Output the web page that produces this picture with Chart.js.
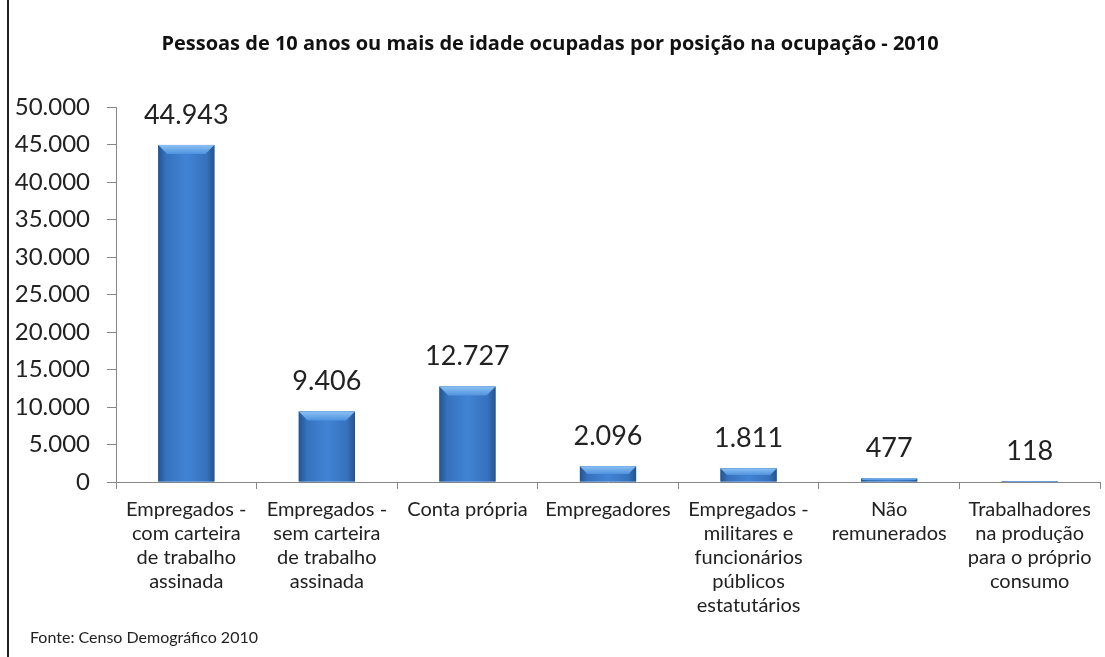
<!DOCTYPE html>
<html>
<head>
<meta charset="utf-8">
<script src="https://cdn.jsdelivr.net/npm/chart.js@4.4.1/dist/chart.umd.min.js"></script>
<style>
  html, body { margin: 0; padding: 0; background: #fff; }
  #box { position: relative; width: 1105px; height: 657px; }
  #borda { position: absolute; left: 7px; top: 0; width: 0; height: 657px; border-left: 2px solid #222; }
  #fonte { position: absolute; left: 30px; top: 627px; font-family: Lato, sans-serif; font-size: 16px; color: #222; }
</style>
</head>
<body>
<div id="box">
  <canvas id="grafico" width="1105" height="657"></canvas>
  <div id="borda"></div>
  <div id="fonte">Fonte: Censo Demográfico 2010</div>
</div>
<script>
// categorias (rotulos em varias linhas)
const categorias = [
    ['Empregados -', 'com carteira', 'de trabalho', 'assinada'],
    ['Empregados -', 'sem carteira', 'de trabalho', 'assinada'],
    ['Conta própria'],
    ['Empregadores'],
    ['Empregados -', 'militares e', 'funcionários', 'públicos', 'estatutários'],
    ['Não', 'remunerados'],
    ['Trabalhadores', 'na produção', 'para o próprio', 'consumo']
];
const ocupados = [44943, 9406, 12727, 2096, 1811, 477, 118];
const titulo = 'Pessoas de 10 anos ou mais de idade ocupadas por posição na ocupação - 2010';

function milhar(v) {
    return String(v).replace(/\B(?=(\d{3})+(?!\d))/g, '.');
}

// efeito de bisel nas barras (por cima do preenchimento)
const bisel = {
    id: 'bisel',
    afterDatasetsDraw(chart) {
        const ctx = chart.ctx;
        chart.getDatasetMeta(0).data.forEach(function (bar) {
            const x0 = bar.x - bar.width / 2, x1 = bar.x + bar.width / 2;
            const top = bar.y, base = bar.base;
            const g = ctx.createLinearGradient(x0, 0, x1, 0);
            g.addColorStop(0, '#24548f');
            g.addColorStop(0.14, '#3672bd');
            g.addColorStop(0.5, '#4183d4');
            g.addColorStop(0.86, '#3672bd');
            g.addColorStop(1, '#24548f');
            ctx.save();
            ctx.fillStyle = g;
            ctx.fillRect(x0, top, x1 - x0, base - top);
            const b = Math.min(9, (base - top) / 2);
            const g2 = ctx.createLinearGradient(0, top, 0, top + b);
            g2.addColorStop(0, '#8cc0f2');
            g2.addColorStop(1, '#4f93e0');
            ctx.fillStyle = g2;
            ctx.beginPath();
            ctx.moveTo(x0, top);
            ctx.lineTo(x1, top);
            ctx.lineTo(x1 - b, top + b);
            ctx.lineTo(x0 + b, top + b);
            ctx.closePath();
            ctx.fill();
            ctx.restore();
        });
    }
};

// valores acima das barras
const valores = {
    id: 'valores',
    afterDatasetsDraw(chart) {
        const ctx = chart.ctx;
        ctx.save();
        ctx.font = '27px Lato';
        ctx.fillStyle = '#222';
        ctx.textAlign = 'center';
        ctx.textBaseline = 'middle';
        chart.getDatasetMeta(0).data.forEach(function (bar, i) {
            ctx.fillText(milhar(ocupados[i]), bar.x, bar.y - 30);
        });
        ctx.restore();
    }
};

const ctx = document.getElementById('grafico').getContext('2d');
const grafico = new Chart(ctx, {
    type: 'bar',
    data: {
        labels: categorias,
        datasets: [{
            data: ocupados,
            backgroundColor: '#4183d4',
            borderWidth: 0,
            barPercentage: 0.4,
            categoryPercentage: 1
        }]
    },
    options: {
        responsive: false,
        animation: false,
        layout: { padding: { left: 0, right: 5, top: 0, bottom: 0 } },
        plugins: {
            legend: { display: false },
            tooltip: { enabled: false },
            title: {
                display: true,
                text: titulo,
                color: '#111',
                font: { family: 'Open Sans', size: 20, weight: 'bold' },
                padding: { top: 32, bottom: 51 }
            }
        },
        scales: {
            x: {
                grid: { drawOnChartArea: false, offset: true, tickLength: 7, color: '#868686' },
                border: { color: '#868686' },
                ticks: {
                    color: '#222',
                    font: { family: 'Lato', size: 20, lineHeight: 1.2 },
                    padding: 9,
                    maxRotation: 0,
                    autoSkip: false
                },
                afterFit(scale) { scale.height = 175; }
            },
            y: {
                min: 0,
                max: 50000,
                grid: { drawOnChartArea: false, tickLength: 9, color: '#868686' },
                border: { color: '#868686' },
                ticks: {
                    stepSize: 5000,
                    color: '#222',
                    font: { family: 'Lato', size: 24 },
                    padding: 17,
                    callback: function (v) { return milhar(v); }
                },
                afterFit(scale) { scale.width = 116; }
            }
        }
    },
    plugins: [bisel, valores]
});
</script>
</body>
</html>
